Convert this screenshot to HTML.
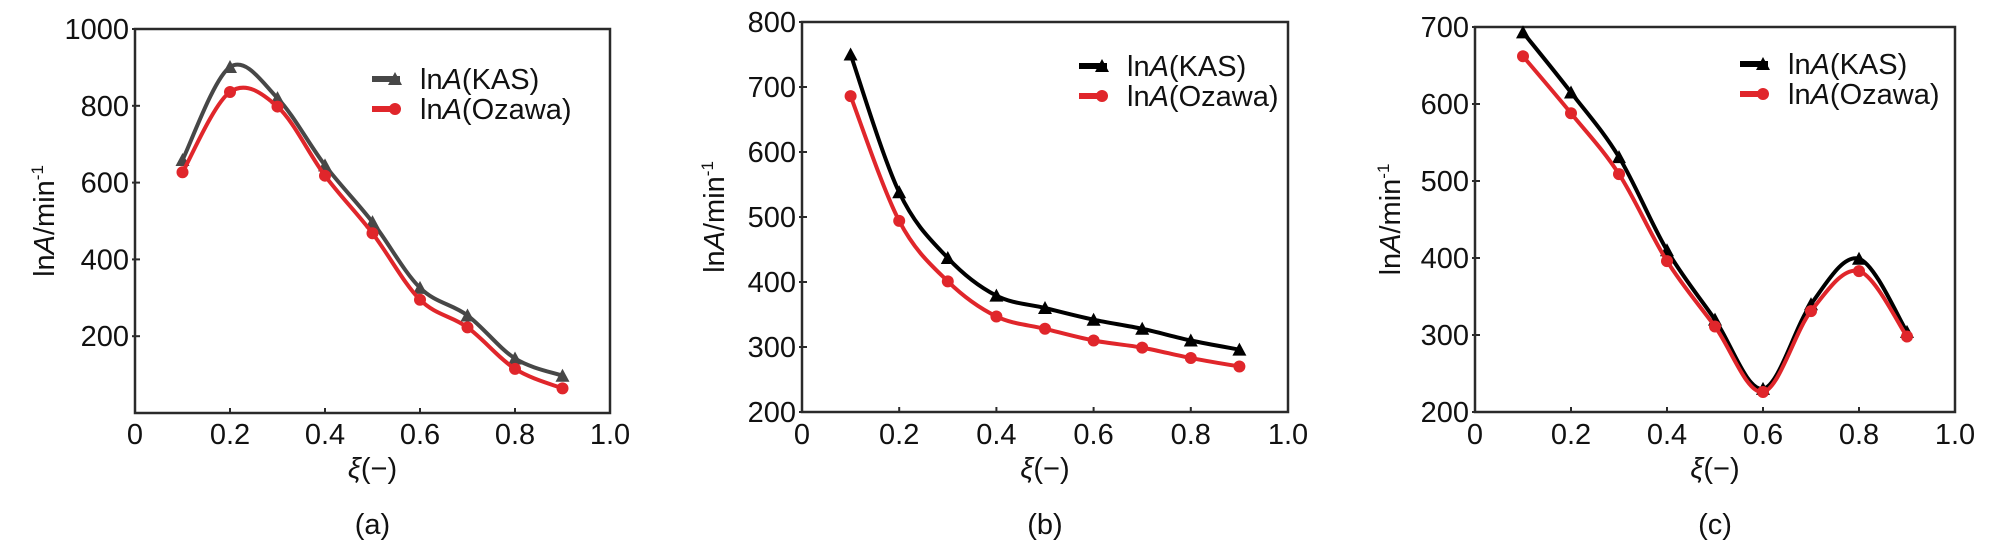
<!DOCTYPE html>
<html><head><meta charset="utf-8"><style>
html,body{margin:0;padding:0;background:#fff;}
svg{display:block;font-family:"Liberation Sans",Arial,sans-serif;}
</style></head><body>
<svg id="fig" width="2006" height="544" viewBox="0 0 2006 544" xmlns="http://www.w3.org/2000/svg"></svg>
<script>
const xCategories = [0.1,0.2,0.3,0.4,0.5,0.6,0.7,0.8,0.9];
const xTicks = [0,0.2,0.4,0.6,0.8,1.0];
const xTickLabels = ["0","0.2","0.4","0.6","0.8","1.0"];
const kasA = [659,901,820,645,497,326,254,142,97];
const ozaA = [627,836,798,618,468,295,223,115,64];
const kasB = [750,538,437,379,360,342,328,310,296];
const ozaB = [686,494,401,347,328,310,299,283,270];
const kasC = [693,615,531,410,320,230,340,399,304];
const ozaC = [662,588,509,396,311,226,331,383,298];
const yTicksA = [200,400,600,800,1000];
const yTicksB = [200,300,400,500,600,700,800];
const yTicksC = [200,300,400,500,600,700];

const FS = 29;
const NS="http://www.w3.org/2000/svg";
const svg=document.getElementById('fig');
function mk(tag,parent){const e=document.createElementNS(NS,tag);parent.appendChild(e);return e;}

function spline(pts){
  let d=`M${pts[0][0]},${pts[0][1]}`;
  for(let i=0;i<pts.length-1;i++){
    const p0=pts[Math.max(0,i-1)],p1=pts[i],p2=pts[i+1],p3=pts[Math.min(pts.length-1,i+2)];
    const c1=[p1[0]+(p2[0]-p0[0])/6,p1[1]+(p2[1]-p0[1])/6];
    const c2=[p2[0]-(p3[0]-p1[0])/6,p2[1]-(p3[1]-p1[1])/6];
    d+=` C${c1[0]},${c1[1]} ${c2[0]},${c2[1]} ${p2[0]},${p2[1]}`;
  }
  return d;
}

function panel(cfg){
  const g=mk('g',svg);
  
  
  const {L,R,T,B,ymin,ymax}=cfg;
  const sx=v=>L+(v-0)/(1-0)*(R-L);
  const sy=v=>B-(v-ymin)/(ymax-ymin)*(B-T);
  const fr=mk('rect',g);
  fr.setAttribute('x',L);fr.setAttribute('y',T);fr.setAttribute('width',R-L);fr.setAttribute('height',B-T);
  fr.setAttribute('fill','none');fr.setAttribute('stroke','#2a2a2a');fr.setAttribute('stroke-width','2.5');
  
  
  xTicks.forEach((t,i)=>{
    const x=sx(t);
    const tk=mk('line',g);
    tk.setAttribute('x1',x);tk.setAttribute('x2',x);tk.setAttribute('y1',B);tk.setAttribute('y2',B-5);
    tk.setAttribute('stroke','#2a2a2a');tk.setAttribute('stroke-width','2');
    
    
    const tx=mk('text',g);
    tx.setAttribute('x',x);tx.setAttribute('y',444);tx.setAttribute('text-anchor','middle');
    tx.setAttribute('font-size',FS);tx.setAttribute('fill','#111');
    tx.textContent=xTickLabels[i];
    
    
  });
  cfg.yTicks.forEach(t=>{
    const y=sy(t);
    const tk=mk('line',g);
    tk.setAttribute('x1',L-3);tk.setAttribute('x2',L+5);tk.setAttribute('y1',y);tk.setAttribute('y2',y);
    tk.setAttribute('stroke','#2a2a2a');tk.setAttribute('stroke-width','2');
    
    
    const tx=mk('text',g);
    tx.setAttribute('x',L-6);tx.setAttribute('y',y+10);tx.setAttribute('text-anchor','end');
    tx.setAttribute('font-size',FS);tx.setAttribute('fill','#111');
    tx.textContent=String(t);
    
    
  });
  const yl=mk('text',g);
  const cy=(T+B)/2;
  yl.setAttribute('transform',`translate(${cfg.ylx},${cy}) rotate(-90)`);
  yl.setAttribute('text-anchor','middle');yl.setAttribute('font-size',FS);yl.setAttribute('fill','#111');
  yl.innerHTML='ln<tspan font-style="italic">A</tspan>/min<tspan font-size="17" dy="-11">-1</tspan>';
  
  
  const xl=mk('text',g);
  xl.setAttribute('x',(L+R)/2);xl.setAttribute('y',478);xl.setAttribute('text-anchor','middle');
  xl.setAttribute('font-size',FS);xl.setAttribute('fill','#111');
  xl.innerHTML='<tspan font-style="italic">ξ</tspan>(−)';
  
  
  const cap=mk('text',g);
  cap.setAttribute('x',(L+R)/2);cap.setAttribute('y',534);cap.setAttribute('text-anchor','middle');
  cap.setAttribute('font-size',FS);cap.setAttribute('fill','#111');
  cap.textContent='('+cfg.id+')';
  
  

  const series=[{vals:cfg.kas,color:cfg.kasColor,m:'tri',name:'KAS'},{vals:cfg.oza,color:'#e0262b',m:'circ',name:'Ozawa'}];
  series.forEach((s,si)=>{
    const pts=xCategories.map((c,i)=>[sx(c),sy(s.vals[i])]);
    const p=mk('path',g);
    p.setAttribute('d',spline(pts));p.setAttribute('fill','none');p.setAttribute('stroke',s.color);
    p.setAttribute('stroke-width','4');p.setAttribute('stroke-linejoin','round');
    
    
    pts.forEach(pt=>drawMarker(g,s.m,pt[0],pt[1],s.color,s.name));
    const ly=cfg.legY+si*30;
    const ll=mk('line',g);
    ll.setAttribute('x1',cfg.legX);ll.setAttribute('x2',cfg.legX+28);ll.setAttribute('y1',ly);ll.setAttribute('y2',ly);
    ll.setAttribute('stroke',s.color);ll.setAttribute('stroke-width','6');
    
    
    drawMarker(g,s.m,cfg.legX+23,ly,s.color,s.name);
    const lt=mk('text',g);
    lt.setAttribute('x',cfg.legX+48);lt.setAttribute('y',ly+10);lt.setAttribute('font-size',FS);lt.setAttribute('fill','#111');
    lt.innerHTML='ln<tspan font-style="italic">A</tspan>('+s.name+')';
    
    
  });
}
function drawMarker(g,m,x,y,color,name){
  let e;
  if(m==='tri'){
    e=mk('polygon',g);
    e.setAttribute('points',`${x},${y-7} ${x-7},${y+6} ${x+7},${y+6}`);
  } else {
    e=mk('circle',g);
    e.setAttribute('cx',x);e.setAttribute('cy',y);e.setAttribute('r',6);
  }
  e.setAttribute('fill',color);
  
  
}
panel({id:'a',L:135,R:610,T:29,B:413,ymin:0,ymax:1000,yTicks:yTicksA,kas:kasA,oza:ozaA,kasColor:'#474747',ylx:54,legX:372,legY:79});
panel({id:'b',L:802,R:1288,T:22,B:412,ymin:200,ymax:800,yTicks:yTicksB,kas:kasB,oza:ozaB,kasColor:'#000',ylx:724,legX:1079,legY:66});
panel({id:'c',L:1475,R:1955,T:27,B:412,ymin:200,ymax:700,yTicks:yTicksC,kas:kasC,oza:ozaC,kasColor:'#000',ylx:1400,legX:1740,legY:64});
</script>
</body></html>
